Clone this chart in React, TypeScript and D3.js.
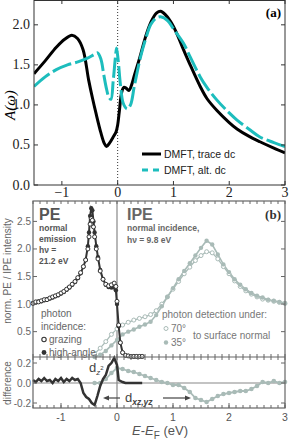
import React from "react";
import * as d3 from "d3";

// panel (a): DMFT spectral functions [E-EF, A]
const traceDc: [number, number][] = [
  [-1.5, 1.39], [-1.3, 1.55], [-1.1, 1.72], [-0.95, 1.82], [-0.82, 1.87], [-0.72, 1.83],
  [-0.62, 1.69], [-0.52, 1.31], [-0.45, 1.08], [-0.39, 0.9], [-0.3, 0.65], [-0.24, 0.52],
  [-0.2, 0.48], [-0.15, 0.52], [-0.08, 0.6], [-0.03, 0.66], [0.0, 0.75], [0.03, 0.92],
  [0.07, 1.15], [0.11, 1.22], [0.15, 1.21], [0.2, 1.18], [0.25, 1.25], [0.3, 1.37],
  [0.4, 1.6], [0.5, 1.85], [0.6, 2.04], [0.7, 2.15], [0.77, 2.17], [0.85, 2.13],
  [1.0, 1.98], [1.18, 1.69], [1.3, 1.5], [1.48, 1.23], [1.6, 1.08], [1.78, 0.93],
  [2.0, 0.78], [2.14, 0.7], [2.35, 0.61], [2.55, 0.54], [2.8, 0.46], [3.0, 0.4],
];
const altDc: [number, number][] = [
  [-1.5, 1.23], [-1.3, 1.35], [-1.1, 1.44], [-0.9, 1.5], [-0.7, 1.54], [-0.55, 1.58],
  [-0.42, 1.63], [-0.36, 1.65], [-0.3, 1.57], [-0.25, 1.38], [-0.2, 1.2], [-0.16, 1.1],
  [-0.12, 1.07], [-0.08, 1.3], [-0.04, 1.6], [-0.02, 1.71], [0.01, 1.55], [0.05, 1.25],
  [0.1, 1.02], [0.17, 0.95], [0.23, 1.0], [0.3, 1.24], [0.41, 1.6], [0.5, 1.82],
  [0.59, 2.0], [0.68, 2.08], [0.77, 2.1], [0.9, 2.05], [1.0, 1.95], [1.18, 1.77],
  [1.3, 1.6], [1.48, 1.35], [1.6, 1.22], [1.78, 1.06], [2.0, 0.9], [2.14, 0.81],
  [2.35, 0.7], [2.55, 0.6], [2.8, 0.53], [3.0, 0.48],
];

// panel (b): photoemission
const peX = [
  -1.5, -1.45, -1.4, -1.35, -1.3, -1.25, -1.2, -1.15, -1.1, -1.05, -1.0, -0.95, -0.9, -0.85,
  -0.8, -0.75, -0.7, -0.65, -0.6, -0.56, -0.52, -0.5, -0.48, -0.46, -0.44, -0.42, -0.4,
  -0.37, -0.34, -0.3, -0.25, -0.2, -0.15, -0.1, -0.05, -0.02, 0.0, 0.03, 0.06, 0.1, 0.15,
  0.2, 0.25, 0.3, 0.35, 0.4, 0.45,
];
const peHigh = [
  1.02, 1.03, 1.05, 1.05, 1.07, 1.09, 1.1, 1.12, 1.14, 1.16, 1.19, 1.22, 1.26, 1.3,
  1.35, 1.4, 1.47, 1.56, 1.68, 1.8, 2.05, 2.3, 2.6, 2.74, 2.7, 2.5, 2.3,
  2.05, 1.85, 1.62, 1.45, 1.35, 1.31, 1.3, 1.3, 1.25, 1.0, 0.6, 0.3, 0.12, 0.07,
  0.06, 0.05, 0.05, 0.05, 0.05, 0.05,
];
const peGrazing = [
  1.01, 1.04, 1.04, 1.06, 1.08, 1.08, 1.11, 1.13, 1.15, 1.17, 1.2, 1.23, 1.27, 1.31,
  1.36, 1.41, 1.48, 1.57, 1.68, 1.8, 2.0, 2.22, 2.45, 2.55, 2.52, 2.4, 2.22,
  2.0, 1.82, 1.6, 1.45, 1.36, 1.33, 1.35, 1.38, 1.32, 1.05, 0.62, 0.3, 0.12, 0.07,
  0.06, 0.05, 0.05, 0.05, 0.05, 0.05,
];

// panel (b): inverse photoemission
const ipeX = [
  -0.4, -0.3, -0.2, -0.1, 0.0, 0.1, 0.2, 0.3, 0.4, 0.5, 0.6, 0.7, 0.8, 0.9, 1.0, 1.1, 1.2,
  1.3, 1.4, 1.5, 1.6, 1.7, 1.8, 1.9, 2.0, 2.1, 2.2, 2.3, 2.4, 2.5, 2.6, 2.7, 2.8, 2.9, 3.0,
];
const ipe35 = [
  0.04, 0.08, 0.15, 0.25, 0.35, 0.45, 0.5, 0.54, 0.59, 0.63, 0.68, 0.8, 0.96, 1.13, 1.29, 1.45, 1.6,
  1.74, 1.88, 2.02, 2.15, 2.08, 1.9, 1.72, 1.58, 1.45, 1.35, 1.27, 1.2, 1.15, 1.12, 1.08, 1.06, 1.04, 1.02,
];
const ipe70 = [
  0.1, 0.2, 0.32, 0.45, 0.55, 0.62, 0.67, 0.71, 0.74, 0.77, 0.81, 0.88, 1.0, 1.13, 1.27, 1.41, 1.55,
  1.67, 1.79, 1.88, 1.95, 1.93, 1.82, 1.68, 1.55, 1.42, 1.32, 1.24, 1.18, 1.13, 1.09, 1.07, 1.05, 1.03, 1.01,
];

// difference panel
const diffPeX = [
  -1.5, -1.45, -1.4, -1.35, -1.3, -1.25, -1.2, -1.15, -1.1, -1.05, -1.0, -0.95, -0.9, -0.85,
  -0.8, -0.75, -0.7, -0.65, -0.6, -0.55, -0.5, -0.45, -0.4, -0.35, -0.3, -0.25, -0.2, -0.15,
  -0.1, -0.05, 0.0, 0.03, 0.1, 0.15, 0.2, 0.25, 0.3, 0.35, 0.4, 0.45,
];
const diffPe = [
  0.03, 0.01, 0.04, 0.02, 0.05, 0.02, 0.03, 0.0, 0.04, 0.02, 0.05, 0.01, 0.04, 0.02,
  0.05, 0.03, 0.04, 0.0, -0.1, -0.14, -0.16, -0.2, -0.22, -0.13, -0.03, 0.04, 0.08, 0.17,
  0.2, 0.25, 0.18, 0.03, 0.01, 0.0, 0.0, 0.0, 0.0, 0.0, 0.0, 0.0,
];
const diffIpe = [
  0.0, 0.0, 0.04, 0.1, 0.15, 0.14, 0.12, 0.11, 0.09, 0.07, 0.05, 0.03, 0.01, 0.0, -0.02, -0.02, -0.05,
  -0.09, -0.15, -0.17, -0.19, -0.16, -0.13, -0.11, -0.1, -0.09, -0.08, -0.08, -0.06, -0.03, 0.01, 0.0, 0.02, 0.0, 0.01,
];

const xTicks = [-1, 0, 1, 2, 3];
const aTicks = [0, 0.5, 1.0, 1.5, 2.0];
const bTicks = [0.5, 1.0, 1.5, 2.0, 2.5];
const dTicks = [-0.2, 0, 0.2];

const W = 291;
const H = 446;
const CYAN = "#1dbdbd";
const PE = "#333";
const IPE = "#a9bbb7";
const FRAME = "#666";
const SERIF = "'Liberation Serif', 'DejaVu Serif', serif";
const SANS = "'Liberation Sans', Arial, sans-serif";

export default function App() {
  const xa = d3.scaleLinear().domain([-1.5, 3]).range([34, 285]);
  const ya = d3.scaleLinear().domain([0, 2.31]).range([185, 0]);
  const xb = d3.scaleLinear().domain([-1.5, 3]).range([33, 285]);
  const yb = d3.scaleLinear().domain([0.04, 2.87]).range([357, 201]);
  const yd = d3.scaleLinear().domain([-0.25, 0.26]).range([408, 357]);

  const lineA = d3
    .line<[number, number]>()
    .x((d) => xa(d[0]))
    .y((d) => ya(d[1]))
    .curve(d3.curveCatmullRom.alpha(0.5));

  const lineXY = (xs: number[], ys: number[], y: d3.ScaleLinear<number, number>) =>
    d3
      .line<number>()
      .x((_, i) => xb(xs[i]))
      .y((d) => y(d))(ys) || "";

  const minorX = d3.range(-1.5, 3.0001, 0.125);

  return (
    <svg
      width={W}
      height={H}
      style={{ position: "absolute", left: 0, top: 0, background: "#fff" }}
    >
      {/* ---------- panel (a) ---------- */}
      <defs>
        <clipPath id="clipA">
          <rect x={34} y={0} width={251} height={185} />
        </clipPath>
      </defs>
      <line x1={xa(0)} x2={xa(0)} y1={0} y2={185} stroke="#333" strokeWidth={1} strokeDasharray="1,2" />
      <g clipPath="url(#clipA)">
        <path d={lineA(traceDc) || ""} fill="none" stroke="#000" strokeWidth={3} />
        <path d={lineA(altDc) || ""} fill="none" stroke={CYAN} strokeWidth={3} strokeDasharray="20,4" />
      </g>
      <rect x={34} y={0.5} width={251} height={184.5} fill="none" stroke="#333" strokeWidth={1} />
      {aTicks.map((t) => (
        <g key={`ya${t}`}>
          <line x1={34} x2={38} y1={ya(t)} y2={ya(t)} stroke="#333" />
          <line x1={281} x2={285} y1={ya(t)} y2={ya(t)} stroke="#333" />
          <text x={30} y={ya(t) + 4.5} textAnchor="end" fontFamily={SERIF} fontSize={14} fill="#222">
            {t.toFixed(1)}
          </text>
        </g>
      ))}
      {xTicks.map((t) => (
        <g key={`xa${t}`}>
          <line x1={xa(t)} x2={xa(t)} y1={185} y2={181} stroke="#333" />
          <line x1={xa(t)} x2={xa(t)} y1={0} y2={4} stroke="#333" />
          <text x={xa(t)} y={197} textAnchor="middle" fontFamily={SERIF} fontSize={14} fill="#222">
            {t < 0 ? `\u2212${-t}` : t}
          </text>
        </g>
      ))}
      <text
        transform={`translate(15,105) rotate(-90)`}
        textAnchor="middle"
        fontFamily={SERIF}
        fontSize={15}
        fontStyle="italic"
      >
        A(ω)
      </text>
      <text x={281} y={17} textAnchor="end" fontFamily={SERIF} fontSize={13} fontWeight="bold">
        (a)
      </text>
      {/* legend */}
      <line x1={142} x2={161} y1={154} y2={154} stroke="#000" strokeWidth={3} />
      <text x={164} y={158} fontFamily={SANS} fontSize={10.5} fill="#222">
        DMFT, trace dc
      </text>
      <line x1={142} x2={161} y1={170} y2={170} stroke={CYAN} strokeWidth={3} strokeDasharray="6,5" />
      <text x={164} y={174} fontFamily={SANS} fontSize={10.5} fill="#222">
        DMFT, alt. dc
      </text>

      {/* ---------- panel (b) ---------- */}
      <line x1={xb(0)} x2={xb(0)} y1={201} y2={408} stroke="#888" strokeWidth={1.2} />
      <line x1={33} x2={285} y1={yd(0)} y2={yd(0)} stroke="#888" strokeWidth={1.2} />

      {/* IPE */}
      <path d={lineXY(ipeX, ipe70, yb)} fill="none" stroke={IPE} strokeWidth={1.3} />
      <path d={lineXY(ipeX, ipe35, yb)} fill="none" stroke={IPE} strokeWidth={1.6} />
      {ipeX.map((x, i) => (
        <circle key={`o70${i}`} cx={xb(x)} cy={yb(ipe70[i])} r={2} fill="#fff" stroke={IPE} strokeWidth={1} />
      ))}
      {ipeX.map((x, i) => (
        <circle key={`f35${i}`} cx={xb(x)} cy={yb(ipe35[i])} r={2.2} fill={IPE} />
      ))}

      {/* PE */}
      <path d={lineXY(peX, peHigh, yb)} fill="none" stroke={PE} strokeWidth={2} />
      {peX.map((x, i) => (
        <circle key={`ph${i}`} cx={xb(x)} cy={yb(peHigh[i])} r={2.2} fill={PE} />
      ))}
      {peX.map((x, i) => (
        <circle key={`pg${i}`} cx={xb(x)} cy={yb(peGrazing[i])} r={2} fill="#fff" stroke={PE} strokeWidth={1} />
      ))}

      {/* difference */}
      <path d={lineXY(ipeX, diffIpe, yd)} fill="none" stroke={IPE} strokeWidth={1.8} />
      {ipeX.map((x, i) => (
        <circle key={`di${i}`} cx={xb(x)} cy={yd(diffIpe[i])} r={2.3} fill={IPE} />
      ))}
      <path d={lineXY(diffPeX, diffPe, yd)} fill="none" stroke={PE} strokeWidth={2.5} />

      {/* frames */}
      <rect x={33} y={201} width={252} height={207} fill="none" stroke={FRAME} strokeWidth={1.2} />
      <line x1={33} x2={285} y1={357} y2={357} stroke={FRAME} strokeWidth={1.2} />
      {minorX.map((t, i) => (
        <g key={`mx${i}`}>
          <line x1={xb(t)} x2={xb(t)} y1={201} y2={204} stroke={FRAME} />
          <line x1={xb(t)} x2={xb(t)} y1={357} y2={354} stroke={FRAME} />
          <line x1={xb(t)} x2={xb(t)} y1={357} y2={360} stroke={FRAME} />
          <line x1={xb(t)} x2={xb(t)} y1={408} y2={405} stroke={FRAME} />
        </g>
      ))}
      {bTicks.map((t) => (
        <g key={`yb${t}`}>
          <line x1={33} x2={37} y1={yb(t)} y2={yb(t)} stroke={FRAME} />
          <line x1={281} x2={285} y1={yb(t)} y2={yb(t)} stroke={FRAME} />
          <text x={31} y={yb(t) + 3.5} textAnchor="end" fontFamily={SANS} fontSize={10} fill="#666">
            {t.toFixed(1)}
          </text>
        </g>
      ))}
      {dTicks.map((t) => (
        <g key={`yd${t}`}>
          <line x1={33} x2={37} y1={yd(t)} y2={yd(t)} stroke={FRAME} />
          <line x1={281} x2={285} y1={yd(t)} y2={yd(t)} stroke={FRAME} />
          <text x={31} y={yd(t) + 3.5} textAnchor="end" fontFamily={SANS} fontSize={10} fill="#666">
            {t === 0 ? "0.0" : t.toFixed(1)}
          </text>
        </g>
      ))}
      {xTicks.map((t) => (
        <g key={`xb${t}`}>
          <line x1={xb(t)} x2={xb(t)} y1={408} y2={403} stroke={FRAME} />
          <text x={xb(t)} y={421} textAnchor="middle" fontFamily={SANS} fontSize={10.5} fill="#555">
            {t}
          </text>
        </g>
      ))}
      <text x={160} y={435} textAnchor="middle" fontFamily={SANS} fontSize={13} fill="#555">
        <tspan fontStyle="italic">E</tspan>-<tspan fontStyle="italic">E</tspan>
        <tspan fontSize={10} dy={4}>F</tspan>
        <tspan dy={-4}> (eV)</tspan>
      </text>
      <text transform="translate(11,271) rotate(-90)" textAnchor="middle" fontFamily={SANS} fontSize={10} fill="#666">
        norm. PE / IPE intensity
      </text>
      <text transform="translate(11,383) rotate(-90)" textAnchor="middle" fontFamily={SANS} fontSize={10} fill="#666">
        difference
      </text>
      <text x={281} y={219} textAnchor="end" fontFamily={SERIF} fontSize={13} fontWeight="bold" fill="#333">
        (b)
      </text>

      {/* PE annotations */}
      <text x={39} y={220} fontFamily={SANS} fontSize={16} fontWeight="bold" fill="#555">PE</text>
      <g fontFamily={SANS} fontSize={8.5} fontWeight="bold" fill="#555">
        <text x={39} y={231}>normal</text>
        <text x={39} y={242}>emission</text>
        <text x={39} y={253}>hν =</text>
        <text x={39} y={264}>21.2 eV</text>
      </g>
      <text x={127} y={220} fontFamily={SANS} fontSize={16} fontWeight="bold" fill="#666">IPE</text>
      <g fontFamily={SANS} fontSize={8.5} fontWeight="bold" fill="#666">
        <text x={127} y={231}>normal incidence,</text>
        <text x={127} y={243}>hν = 9.8 eV</text>
      </g>
      <g fontFamily={SANS} fontSize={10} fill="#666">
        <text x={41} y={317}>photon</text>
        <text x={41} y={330}>incidence:</text>
        <text x={49} y={343}>grazing</text>
        <text x={49} y={356}>high-angle</text>
      </g>
      <circle cx={44} cy={339.5} r={2.2} fill="#fff" stroke={PE} strokeWidth={1.1} />
      <circle cx={44} cy={352.5} r={2.4} fill={PE} />
      <g fontFamily={SANS} fontSize={10} fill="#777">
        <text x={162} y={318}>photon detection under:</text>
        <text x={171} y={332}>70°</text>
        <text x={171} y={346}>35°</text>
        <text x={193} y={339}>to surface normal</text>
      </g>
      <circle cx={166} cy={328.5} r={2} fill="#fff" stroke={IPE} strokeWidth={1} />
      <circle cx={166} cy={342.5} r={2.2} fill={IPE} />

      {/* difference annotations */}
      <text x={89} y={372} fontFamily={SANS} fontSize={13} fill="#444">
        d<tspan fontSize={8} dy={3} fontStyle="italic">z</tspan>
        <tspan fontSize={6} dy={-5}>2</tspan>
      </text>
      <text x={125} y={402} fontFamily={SANS} fontSize={13} fill="#444">
        d<tspan fontSize={8.5} dy={3} fontStyle="italic" fontWeight="bold">xz,yz</tspan>
      </text>
      <line x1={120} x2={106} y1={398} y2={398} stroke="#444" strokeWidth={1.2} />
      <path d="M103,398 L109,395.5 L109,400.5 Z" fill="#444" />
      <line x1={163} x2={187} y1={398} y2={398} stroke="#444" strokeWidth={1.2} />
      <path d="M191,398 L185,395.5 L185,400.5 Z" fill="#444" />
    </svg>
  );
}
